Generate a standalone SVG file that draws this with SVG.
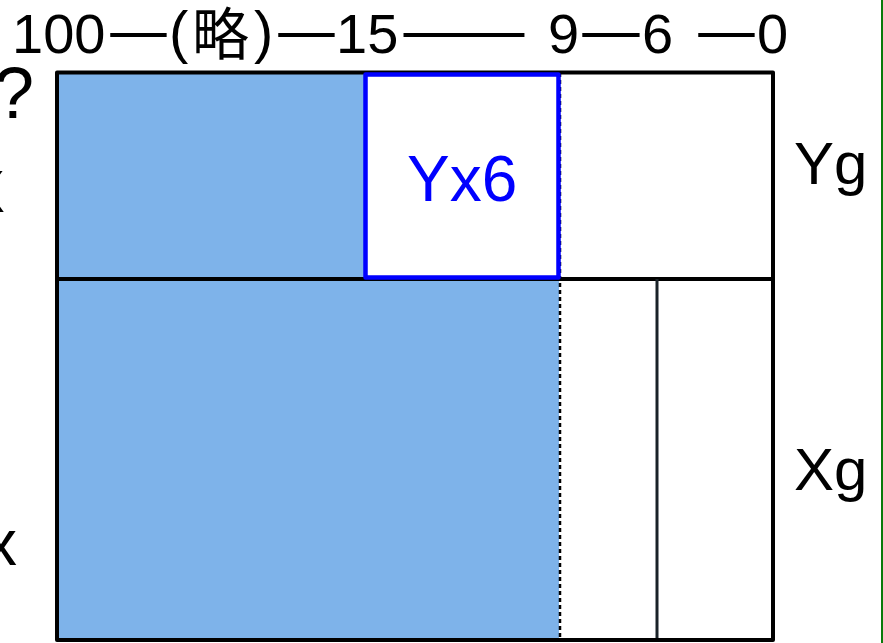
<svg xmlns="http://www.w3.org/2000/svg" width="883" height="643" viewBox="0 0 883 643">
<style>
.t{font-family:"Liberation Sans",Arial,sans-serif;fill:#000}
.jp{font-family:"Noto Sans CJK JP","Liberation Sans",sans-serif;fill:#000}
.frame{fill:none;stroke:#000;stroke-width:4;stroke-linejoin:round}
</style>
<rect x="0" y="0" width="883" height="643" fill="#fff"/>
<line x1="882" y1="0" x2="882" y2="643" stroke="#0a7a0a" stroke-width="2"/>
<g id="axis">
<text class="t" x="12" y="53" font-size="56">100</text>
<text class="jp" x="107" y="53" font-size="63" textLength="63" lengthAdjust="spacingAndGlyphs">—</text>
<text class="t" x="169" y="52" font-size="58">(</text>
<text class="jp" x="192" y="55" font-size="57">略</text>
<text class="t" x="254" y="52" font-size="58">)</text>
<text class="jp" x="275" y="53" font-size="63" textLength="63" lengthAdjust="spacingAndGlyphs">—</text>
<text class="t" x="336" y="53" font-size="56">15</text>
<text class="jp" x="400" y="53" font-size="63" textLength="128" lengthAdjust="spacingAndGlyphs">——</text>
<text class="t" x="548" y="53" font-size="56">9</text>
<text class="jp" x="579" y="53" font-size="63" textLength="64" lengthAdjust="spacingAndGlyphs">—</text>
<text class="t" x="642" y="53" font-size="56">6</text>
<text class="jp" x="695" y="53" font-size="63" textLength="63" lengthAdjust="spacingAndGlyphs">—</text>
<text class="t" x="757" y="53" font-size="56">0</text>
</g>
<g id="left-labels">
<text class="t" x="-6" y="118" font-size="72">?</text>
<text class="t" x="-35" y="212" font-size="60">X</text>
<text class="t" x="-15" y="565" font-size="64">x</text>
</g>
<g id="blue-area">
<rect x="57" y="73" width="502" height="567" fill="#7EB3EA"/>
</g>
<g id="Yx6">
<rect x="365.5" y="74.5" width="193" height="203" fill="#fff"/>
</g>
<g id="grid">
<line x1="57" y1="279" x2="773" y2="279" stroke="#000" stroke-width="4"/>
<line x1="560" y1="73" x2="560" y2="640" stroke="#000" stroke-width="2.5" stroke-dasharray="4 3"/>
<line x1="657" y1="279" x2="657" y2="640" stroke="#1a2228" stroke-width="3"/>
<rect class="frame" x="57" y="72.5" width="716" height="567.5"/>
</g>
<g id="Yx6-box">
<rect x="365.5" y="74.5" width="193" height="203" fill="none" stroke="#0000ff" stroke-width="4.5" stroke-linejoin="round"/>
<text x="407" y="201" font-size="64" font-family="Liberation Sans,Arial,sans-serif" fill="#0000ff">Yx6</text>
</g>
<g id="Yg"><text class="t" x="794" y="184" font-size="60">Yg</text></g>
<g id="Xg"><text class="t" x="794" y="490" font-size="60">Xg</text></g>
</svg>
